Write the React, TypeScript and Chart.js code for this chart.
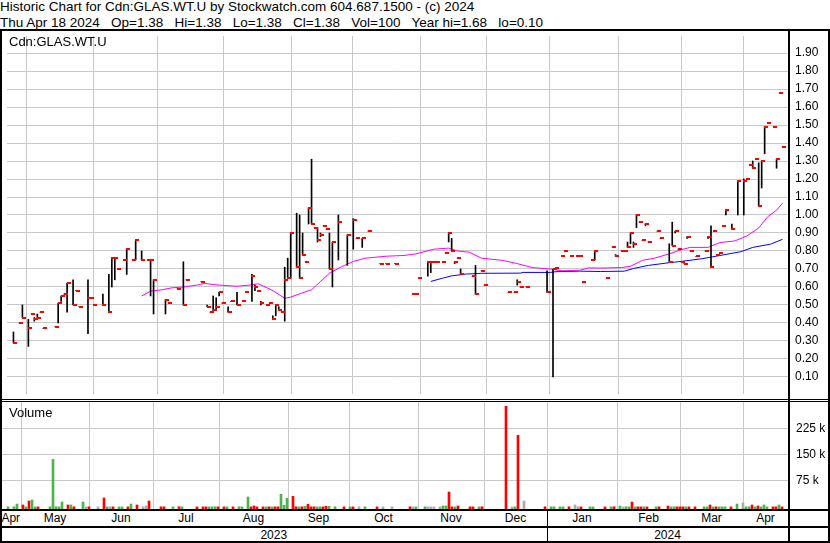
import React, { useEffect, useRef } from 'react';
import { Chart, registerables } from 'chart.js';

Chart.register(...registerables);

const FONT = '"Liberation Sans", Arial, Helvetica, sans-serif';

const headerLine1 = 'Historic Chart for Cdn:GLAS.WT.U by Stockwatch.com 604.687.1500 - (c) 2024';
const headerLine2 = 'Thu Apr 18 2024   Op=1.38   Hi=1.38   Lo=1.38   Cl=1.38   Vol=100   Year hi=1.68   lo=0.10';
const symbolLabel = 'Cdn:GLAS.WT.U';
const volumeLabel = 'Volume';

// trading-day index (weekday slots, Apr 2023 -> Apr 18 2024)
const dayIdx = [
  2, 4, 5,
  7, 8, 9, 10, 11, 12, 16, 17, 18, 19, 20, 22, 23, 24, 27, 28, 29,
  32, 34, 35, 36, 37, 39, 40, 42, 43, 45, 47, 48, 49,
  53, 54, 57, 59, 60, 65, 67, 68, 69, 70, 71, 72,
  74, 75, 77, 79, 80, 82, 83, 84, 85, 87, 88, 89, 90, 91, 92, 93, 94, 95,
  97, 98, 99, 100, 101, 102, 103, 104, 105, 106, 107, 108, 109, 111, 114,
  116, 117, 119, 121, 125, 127, 130, 136, 137, 138,
  141, 142, 143, 144, 146, 147, 148, 149, 150, 151, 152, 156, 157, 159, 160,
  168, 170, 171, 172, 174, 181,
  183, 184, 186, 187, 189, 191, 192, 193, 196, 197, 201, 203, 204,
  206, 207, 208, 209, 210, 211, 212, 213, 214, 215, 218, 219, 222, 223, 224, 225, 226,
  227, 228, 229, 231, 234, 235, 236, 237, 238, 239, 240, 241, 243, 245, 247,
  248, 249, 250, 251, 252, 253, 254, 255, 257, 258, 259, 260,
];

const highs = [
  0.35, 0.40, 0.50,
  0.42, 0.45, 0.43, 0.45, 0.46, 0.37, 0.38, 0.51, 0.55, 0.56, 0.62, 0.64, 0.58, 0.49, 0.64, 0.54, 0.50,
  0.56, 0.67, 0.76, 0.76, 0.70, 0.75, 0.81, 0.75, 0.86, 0.80, 0.75, 0.75, 0.64,
  0.53, 0.51, 0.59, 0.74, 0.64, 0.63, 0.50, 0.46, 0.55, 0.54, 0.57, 0.51,
  0.49, 0.52, 0.57, 0.52, 0.57, 0.67, 0.61, 0.58, 0.52, 0.50, 0.51, 0.44, 0.50, 0.49, 0.46, 0.71, 0.76, 0.90,
  1.01, 1.00, 0.90, 0.74, 1.04, 1.31, 0.93, 0.93, 0.90, 0.94, 0.92, 0.90, 0.85, 1.00, 0.89,
  0.98, 0.87, 0.87, 0.91, 0.73, 0.73, 0.73, 0.56, 0.56, 0.65,
  0.74, 0.74, 0.74, 0.74, 0.74, 0.79, 0.90, 0.87, 0.74, 0.76, 0.70, 0.66, 0.72, 0.69, 0.61,
  0.57, 0.57, 0.64, 0.60, 0.60, 0.69,
  0.70, 0.705, 0.77, 0.80, 0.77, 0.77, 0.77, 0.63, 0.75, 0.80, 0.65, 0.82, 0.78,
  0.80, 0.80, 0.85, 0.90, 0.85, 1.00, 0.96, 0.86, 0.95, 0.85, 0.91, 0.87, 0.84, 0.96, 0.91, 0.81, 0.74,
  0.73, 0.88, 0.80, 0.77, 0.80, 0.88, 0.94, 0.91, 0.78, 0.79, 0.94, 1.03, 0.95, 1.19, 1.20,
  1.20, 1.28, 1.30, 1.31, 1.29, 1.30, 1.49, 1.51, 1.49, 1.31, 1.68, 1.38,
];

const lows = [
  0.29, 0.40, 0.43,
  0.27, 0.45, 0.41, 0.43, 0.46, 0.37, 0.38, 0.40, 0.52, 0.56, 0.46, 0.50, 0.58, 0.49, 0.34, 0.54, 0.50,
  0.50, 0.46, 0.60, 0.64, 0.70, 0.75, 0.67, 0.75, 0.75, 0.75, 0.75, 0.55, 0.45,
  0.45, 0.51, 0.59, 0.50, 0.64, 0.63, 0.49, 0.46, 0.46, 0.47, 0.55, 0.51,
  0.46, 0.52, 0.50, 0.52, 0.57, 0.52, 0.58, 0.58, 0.50, 0.50, 0.51, 0.42, 0.44, 0.47, 0.46, 0.41, 0.65, 0.65,
  0.71, 0.65, 0.78, 0.74, 0.95, 0.95, 0.93, 0.85, 0.88, 0.94, 0.92, 0.70, 0.60, 0.75, 0.72,
  0.81, 0.87, 0.82, 0.91, 0.73, 0.73, 0.73, 0.56, 0.56, 0.65,
  0.66, 0.68, 0.74, 0.74, 0.74, 0.79, 0.85, 0.80, 0.73, 0.76, 0.67, 0.66, 0.56, 0.69, 0.61,
  0.57, 0.57, 0.61, 0.60, 0.60, 0.57,
  0.10, 0.705, 0.77, 0.80, 0.77, 0.77, 0.77, 0.63, 0.75, 0.75, 0.65, 0.82, 0.77,
  0.80, 0.80, 0.82, 0.84, 0.82, 0.93, 0.96, 0.86, 0.94, 0.85, 0.91, 0.87, 0.74, 0.83, 0.90, 0.81, 0.74,
  0.73, 0.87, 0.80, 0.77, 0.80, 0.87, 0.71, 0.91, 0.78, 0.79, 0.94, 1.00, 0.92, 1.00, 1.00,
  1.20, 1.28, 1.26, 1.31, 1.05, 1.15, 1.34, 1.51, 1.49, 1.26, 1.68, 1.38,
];

const closes = [
  0.29, 0.40, 0.43,
  0.37, 0.45, 0.42, 0.43, 0.46, 0.37, 0.38, 0.51, 0.55, 0.56, 0.62, 0.50, 0.58, 0.49, 0.54, 0.54, 0.50,
  0.50, 0.46, 0.76, 0.76, 0.70, 0.75, 0.81, 0.75, 0.86, 0.75, 0.75, 0.75, 0.64,
  0.53, 0.51, 0.59, 0.50, 0.64, 0.63, 0.49, 0.46, 0.47, 0.49, 0.57, 0.51,
  0.46, 0.52, 0.50, 0.52, 0.57, 0.66, 0.60, 0.58, 0.51, 0.50, 0.51, 0.42, 0.50, 0.47, 0.46, 0.64, 0.65, 0.90,
  0.71, 0.65, 0.78, 0.74, 1.04, 0.95, 0.93, 0.86, 0.89, 0.94, 0.92, 0.70, 0.85, 0.96, 0.89,
  0.97, 0.87, 0.87, 0.91, 0.73, 0.73, 0.73, 0.56, 0.56, 0.65,
  0.74, 0.74, 0.74, 0.74, 0.74, 0.79, 0.90, 0.80, 0.74, 0.76, 0.67, 0.66, 0.56, 0.69, 0.61,
  0.57, 0.57, 0.63, 0.60, 0.60, 0.57,
  0.70, 0.705, 0.77, 0.80, 0.77, 0.77, 0.77, 0.63, 0.75, 0.80, 0.65, 0.82, 0.77,
  0.80, 0.80, 0.82, 0.90, 0.84, 1.00, 0.96, 0.86, 0.95, 0.85, 0.91, 0.87, 0.74, 0.83, 0.91, 0.81, 0.74,
  0.73, 0.88, 0.80, 0.77, 0.80, 0.88, 0.71, 0.91, 0.78, 0.79, 0.94, 1.03, 0.92, 1.19, 1.19,
  1.20, 1.28, 1.26, 1.31, 1.05, 1.30, 1.49, 1.51, 1.49, 1.31, 1.68, 1.38,
];

const volumes = [
  100, 300, 8300,
  5500, 100, 16900, 19800, 100, 100, 100, 136000, 300, 100, 14000, 5500, 5500, 100, 14000, 100, 100,
  100, 25500, 300, 300, 100, 100, 100, 100, 8300, 5500, 100, 2600, 16900,
  100, 100, 100, 300, 100, 100, 100, 100, 100, 100, 300, 100,
  100, 100, 100, 300, 100, 28400, 100, 2600, 100, 100, 300, 100, 100, 100, 300, 36000, 4600, 24600,
  30400, 200, 100, 100, 1700, 7500, 200, 200, 200, 100, 100, 1700, 1700, 200, 100,
  100, 100, 300, 100, 100, 100, 100, 300, 100, 100,
  300, 300, 100, 100, 100, 2600, 2600, 42700, 100, 100, 2600, 100, 100, 100, 300,
  288000, 100, 100, 205000, 16900, 300,
  300, 100, 100, 100, 300, 5500, 300, 100, 100, 100, 100, 100, 300,
  2600, 100, 300, 100, 14000, 100, 300, 100, 100, 100, 100, 100, 2600, 100, 300, 100, 100,
  100, 100, 100, 100, 300, 100, 5500, 100, 100, 100, 300, 300, 100, 8300, 11200,
  100, 100, 5500, 100, 2600, 100, 5500, 100, 100, 300, 5500, 100,
];

// moving averages
const maFastIdx = [45, 48, 52, 55, 59, 64, 66, 70, 77, 82, 84, 86, 89, 93, 95, 98, 102, 105, 108, 112, 116, 120, 127, 133, 137, 143, 148, 151, 155, 159, 166, 171, 176, 182, 186, 192, 195, 199, 206, 209, 213, 217, 222, 226, 229, 235, 239, 244, 248, 252, 255, 258, 260];
const maFastVal = [0.55, 0.577, 0.585, 0.595, 0.60, 0.612, 0.62, 0.612, 0.604, 0.612, 0.618, 0.604, 0.58, 0.537, 0.544, 0.562, 0.585, 0.63, 0.676, 0.712, 0.742, 0.76, 0.771, 0.775, 0.784, 0.81, 0.816, 0.80, 0.793, 0.76, 0.748, 0.73, 0.708, 0.70, 0.69, 0.693, 0.706, 0.705, 0.708, 0.715, 0.748, 0.76, 0.784, 0.807, 0.82, 0.82, 0.847, 0.856, 0.883, 0.928, 0.99, 1.027, 1.066];
const maSlowIdx = [142, 146, 149, 154, 159, 172, 173, 182, 184, 192, 199, 207, 210, 215, 222, 226, 233, 239, 246, 250, 256, 260];
const maSlowVal = [0.631, 0.649, 0.662, 0.672, 0.676, 0.677, 0.681, 0.681, 0.685, 0.688, 0.686, 0.688, 0.703, 0.72, 0.735, 0.742, 0.757, 0.775, 0.796, 0.82, 0.838, 0.865];

const priceTicks = [0.1, 0.2, 0.3, 0.4, 0.5, 0.6, 0.7, 0.8, 0.9, 1.0, 1.1, 1.2, 1.3, 1.4, 1.5, 1.6, 1.7, 1.8, 1.9];
const priceTickLabels = ['0.10', '0.20', '0.30', '0.40', '0.50', '0.60', '0.70', '0.80', '0.90', '1.00', '1.10', '1.20', '1.30', '1.40', '1.50', '1.60', '1.70', '1.80', '1.90'];
const volumeTicks = [75000, 150000, 225000];
const volumeTickLabels = ['75 k', '150 k', '225 k'];

const monthLabels = ['Apr', 'May', 'Jun', 'Jul', 'Aug', 'Sep', 'Oct', 'Nov', 'Dec', 'Jan', 'Feb', 'Mar', 'Apr'];
const monthStarts = [6.34, 29, 50.34, 72.34, 95.34, 115.67, 138.67, 160.67, 181.67, 205, 226, 247];
const yearLabels = ['2023', '2024'];
const yearStarts = [181.67];

// layout
const PLOT_LEFT = 2;
const PLOT_W = 786;
const X_SPAN = 262;
const AXIS_W = 40;
const P_MIN = 0.0054;
const P_MAX = 1.9946;
const V_MIN = -6000;
const V_MAX = 300300;
const GRID = '#c8c8c8';
const UP = '#4db34d';
const DOWN = '#ff0000';
const SAME = '#aaaaaa';

const dayToPx = (d: number) => PLOT_LEFT + d * PLOT_W / X_SPAN;

function xScale(min: number) {
  return {
    type: 'linear',
    min,
    max: min + X_SPAN,
    offset: false,
    afterBuildTicks: (s: any) => { s.ticks = monthStarts.map((v) => ({ value: v })); },
    ticks: { display: false },
    grid: { color: GRID, lineWidth: 1, drawTicks: false, offset: false },
    border: { display: false },
    afterFit: (s: any) => { s.height = 0; s.paddingLeft = 0; s.paddingRight = 0; s.paddingTop = 0; s.paddingBottom = 0; },
  };
}

function yScale(min: number, max: number, ticks: number[], labels: string[], padding: number) {
  return {
    type: 'linear',
    position: 'right',
    min,
    max,
    afterBuildTicks: (s: any) => { s.ticks = ticks.map((v) => ({ value: v })); },
    ticks: {
      autoSkip: false,
      padding,
      color: '#000',
      font: { family: FONT, size: 12 },
      callback: (_v: any, i: number) => labels[i],
    },
    grid: { color: GRID, lineWidth: 1, drawTicks: false },
    border: { display: false },
    afterFit: (s: any) => { s.width = AXIS_W; s.paddingTop = 0; s.paddingBottom = 0; },
  };
}

const baseOptions = {
  animation: false,
  responsive: false,
  devicePixelRatio: 1,
  events: [],
  layout: { padding: 0 },
  plugins: { legend: { display: false }, tooltip: { enabled: false }, title: { display: false } },
};

const noSmooth = {
  id: 'noSmooth',
  beforeDatasetsDraw(chart: any) { chart.ctx.imageSmoothingEnabled = false; },
};

export default function App() {
  const priceRef = useRef<HTMLCanvasElement>(null);
  const volRef = useRef<HTMLCanvasElement>(null);

  useEffect(() => {
    document.body.style.margin = '0';
    const tick = document.createElement('canvas');
    tick.width = 9;
    tick.height = 2;
    const tctx = tick.getContext('2d')!;
    tctx.fillStyle = '#ff0000';
    tctx.fillRect(4, 0, 4, 2);

    const priceChart = new Chart(priceRef.current as any, {
      type: 'bar',
      data: {
        datasets: [
          {
            type: 'scatter',
            data: dayIdx.map((d, i) => ({ x: d, y: closes[i] })),
            pointStyle: tick,
            pointRadius: 2,
            showLine: false,
            order: 0,
          },
          {
            type: 'bar',
            data: dayIdx.map((d, i) => ({ x: d, y: [lows[i], highs[i]] })),
            backgroundColor: '#000000',
            borderWidth: 0,
            barThickness: 1,
            order: 1,
          },
          {
            type: 'line',
            data: maFastIdx.map((d, i) => ({ x: d, y: maFastVal[i] })),
            borderColor: '#ff00ff',
            borderWidth: 1,
            pointRadius: 0,
            tension: 0,
            order: 2,
          },
          {
            type: 'line',
            data: maSlowIdx.map((d, i) => ({ x: d, y: maSlowVal[i] })),
            borderColor: '#0000ff',
            borderWidth: 1,
            pointRadius: 0,
            tension: 0,
            order: 3,
          },
        ],
      } as any,
      options: {
        ...baseOptions,
        scales: {
          x: xScale(-1 / 6),
          y: yScale(P_MIN, P_MAX, priceTicks, priceTickLabels, 7),
        },
      } as any,
      plugins: [noSmooth],
    });

    const volColors = closes.map((c, i) => (i === 0 || c > closes[i - 1] ? UP : c < closes[i - 1] ? DOWN : SAME));

    const volChart = new Chart(volRef.current as any, {
      type: 'bar',
      data: {
        datasets: [
          {
            data: dayIdx.map((d, i) => ({ x: d, y: volumes[i] })),
            backgroundColor: volColors,
            borderWidth: 0,
            barThickness: 2,
            base: V_MIN,
          },
        ],
      } as any,
      options: {
        ...baseOptions,
        scales: {
          x: xScale(0),
          y: yScale(V_MIN, V_MAX, volumeTicks, volumeTickLabels, 8),
        },
      } as any,
    });

    return () => {
      priceChart.destroy();
      volChart.destroy();
    };
  }, []);

  const bounds = [-0.5, ...monthStarts, X_SPAN];
  const yBounds = [-0.5, ...yearStarts, X_SPAN];
  const line = (left: number, top: number, width: number, height: number) => (
    <div style={{ position: 'absolute', left, top, width, height, background: '#000' }} />
  );
  const text: React.CSSProperties = { position: 'absolute', whiteSpace: 'pre', color: '#000' };

  return (
    <div style={{ position: 'relative', width: 830, height: 543, background: '#fff', overflow: 'hidden', fontFamily: FONT }}>
      <style>{'body{margin:0;background:#fff}'}</style>
      <div style={{ ...text, left: 0, top: -1, fontSize: 13.5, lineHeight: '15px' }}>{headerLine1}</div>
      <div style={{ ...text, left: 0, top: 15, fontSize: 13.5, lineHeight: '15px' }}>{headerLine2}</div>

      <canvas ref={priceRef} width={PLOT_W + AXIS_W} height={368} style={{ position: 'absolute', left: PLOT_LEFT, top: 31, width: PLOT_W + AXIS_W, height: 368 }} />
      <canvas ref={volRef} width={PLOT_W + AXIS_W} height={107} style={{ position: 'absolute', left: PLOT_LEFT, top: 402, width: PLOT_W + AXIS_W, height: 107 }} />

      <div style={{ ...text, left: 9, top: 35, fontSize: 13, lineHeight: '13px' }}>{symbolLabel}</div>
      <div style={{ ...text, left: 9, top: 406, fontSize: 13, lineHeight: '13px' }}>{volumeLabel}</div>

      {monthLabels.map((m, i) => (
        <div key={'m' + i} style={{ ...text, left: dayToPx((bounds[i] + bounds[i + 1]) / 2) - 20, top: 511, width: 40, textAlign: 'center', fontSize: 12, lineHeight: '15px' }}>{m}</div>
      ))}
      {yearLabels.map((y, i) => (
        <div key={'y' + i} style={{ ...text, left: dayToPx((yBounds[i] + yBounds[i + 1]) / 2) - 30, top: 529, width: 60, textAlign: 'center', fontSize: 12, lineHeight: '13px' }}>{y}</div>
      ))}

      {line(0, 29, 830, 2)}
      {line(0, 29, 2, 514)}
      {line(828, 29, 2, 514)}
      {line(788, 29, 2, 514)}
      {line(0, 399, 830, 1)}
      {line(0, 401, 830, 1)}
      {line(0, 509, 830, 2)}
      {line(0, 526, 830, 2)}
      {line(0, 541, 830, 2)}
      {line(dayToPx(yearStarts[0]), 511, 1, 30)}
    </div>
  );
}
